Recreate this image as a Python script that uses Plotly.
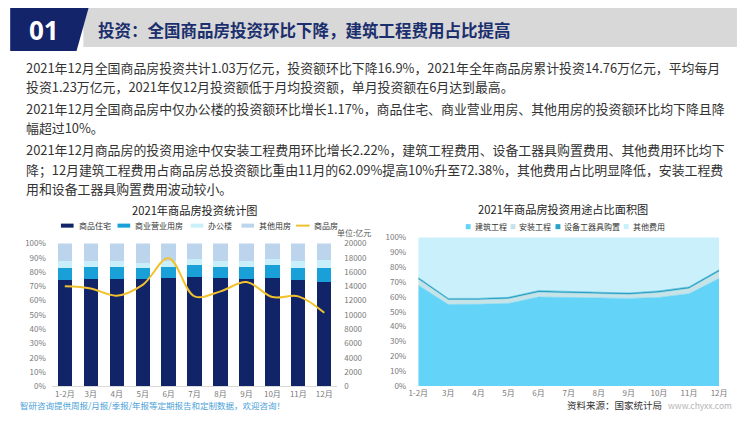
import plotly.graph_objects as go

# Figure size chosen so that the photographed page maps x 1:1 (offset 8px) and y ~0.964 (offset 15.3px)
W, H = 734, 406
X0, Y0, YSPAN = 8.0, 15.3, 391.4

# ---------------- data ----------------
months = ["1-2月", "3月", "4月", "5月", "6月", "7月", "8月", "9月", "10月", "11月", "12月"]

# bar chart: share of investment by building type (%)
residential_pct = [74.4, 75.3, 75.3, 75.3, 75.7, 76.6, 75.7, 75.3, 76.2, 74.8, 73.4]
commercial_pct = [8.6, 8.2, 8.2, 7.7, 7.8, 8.5, 8.0, 8.2, 8.7, 8.2, 9.2]
office_pct = [4.7, 4.2, 4.2, 3.5, 4.3, 3.9, 4.0, 4.2, 4.1, 4.7, 6.0]
other_pct = [12.3, 12.3, 12.3, 13.5, 12.2, 11.0, 12.3, 12.3, 11.0, 12.3, 11.4]
# line: commercial housing investment (亿元)
investment_total = [14000, 13700, 12700, 14200, 17950, 12600, 13300, 14600, 12500, 12600, 10300]

# area chart: share by usage (%)
construction_pct = [67.8, 54.9, 55.0, 55.6, 59.9, 59.6, 59.4, 59.0, 59.6, 62.1, 72.4]
installation_pct = [4.0, 3.0, 2.9, 3.0, 3.1, 2.9, 2.9, 2.5, 3.2, 3.4, 4.6]
equipment_pct = [1.2, 1.1, 1.1, 1.1, 1.2, 1.2, 1.2, 1.1, 1.2, 1.2, 1.2]
other_cost_pct = [27.0, 41.0, 41.0, 40.3, 35.8, 36.3, 36.5, 37.4, 36.0, 33.3, 21.8]

pct_ticks = [0, 10, 20, 30, 40, 50, 60, 70, 80, 90, 100]
pct_labels = ["0%", "10%", "20%", "30%", "40%", "50%", "60%", "70%", "80%", "90%", "100%"]
amount_ticks = [0, 2000, 4000, 6000, 8000, 10000, 12000, 14000, 16000, 18000, 20000]
amount_labels = ["0", "2000", "4000", "6000", "8000", "10000", "12000", "14000", "16000", "18000", "20000"]

bar_names = ["商品住宅", "商业营业用房", "办公楼", "其他用房", "商品房"]
area_names = ["建筑工程", "安装工程", "设备工器具购置", "其他费用"]

header_no = "01"
header_title = "投资：全国商品房投资环比下降，建筑工程费用占比提高"
paragraph_lines = [
    "2021年12月全国商品房投资共计1.03万亿元，投资额环比下降16.9%，2021年全年商品房累计投资14.76万亿元，平均每月",
    "投资1.23万亿元，2021年仅12月投资额低于月均投资额，单月投资额在6月达到最高。",
    "2021年12月全国商品房中仅办公楼的投资额环比增长1.17%，商品住宅、商业营业用房、其他用房的投资额环比均下降且降",
    "幅超过10%。",
    "2021年12月商品房的投资用途中仅安装工程费用环比增长2.22%，建筑工程费用、设备工器具购置费用、其他费用环比均下",
    "降；12月建筑工程费用占商品房总投资额比重由11月的62.09%提高10%升至72.38%，其他费用占比明显降低，安装工程费",
    "用和设备工器具购置费用波动较小。",
]
bar_title = "2021年商品房投资统计图"
area_title = "2021年商品房投资用途占比面积图"
unit_text = "单位:亿元"
footer_left = "智研咨询提供周报/月报/季报/年报等定期报告和定制数据，欢迎咨询！"
footer_src = "资料来源：国家统计局"
footer_url = "www.chyxx.com"

# ---------------- style ----------------
FONT = "Noto Sans CJK SC"
NAVY = "#13246a"
C_RES = "#112468"
C_COM = "#1aa0d8"
C_OFF = "#c9f0fa"
C_OTH = "#bcd4ec"
C_LINE = "#f2c12e"
C_CONS = "#63d3f8"
C_INST = "#c6e4e8"
C_EQUIP = "#2aa3c8"
C_OCOST = "#c9f0fb"
TICK = dict(family=FONT, size=8, color="#7a7a7a")


def px(x):
    return (x - X0) / W


def py(y):
    return 1 - (y - Y0) / YSPAN


fig = go.Figure()

# bars
for vals, name, col in zip([residential_pct, commercial_pct, office_pct, other_pct],
                           bar_names[:4], [C_RES, C_COM, C_OFF, C_OTH]):
    fig.add_trace(go.Bar(x=months, y=vals, name=name, marker=dict(color=col, line=dict(width=0)),
                         xaxis="x", yaxis="y", showlegend=False))

fig.add_trace(go.Scatter(x=months, y=investment_total, name=bar_names[4], mode="lines",
                         line=dict(color=C_LINE, width=2, shape="spline", smoothing=1.0),
                         xaxis="x", yaxis="y2", showlegend=False))

# areas
for vals, name, col in zip([construction_pct, installation_pct, equipment_pct, other_cost_pct],
                           area_names, [C_CONS, C_INST, C_EQUIP, C_OCOST]):
    fig.add_trace(go.Scatter(x=months, y=vals, name=name, mode="lines", stackgroup="usage",
                             line=dict(color=col, width=0.6), fillcolor=col,
                             xaxis="x2", yaxis="y3", showlegend=False))

shapes = []
annotations = []

# header
shapes.append(dict(type="rect", xref="paper", yref="paper", x0=px(75), x1=px(745), y0=py(48), y1=py(9),
                   fillcolor="#d8d8d8", line=dict(width=0), layer="below"))
shapes.append(dict(type="path", xref="paper", yref="paper",
                   path=f"M {px(0)} {py(0)} L {px(83)} {py(0)} L {px(68)} {py(52)} L {px(0)} {py(52)} Z",
                   fillcolor=NAVY, line=dict(width=0), layer="below"))
annotations.append(dict(text=f"<b>{header_no}</b>", x=px(35), y=py(31), xref="paper", yref="paper",
                        xanchor="center", yanchor="middle", showarrow=False,
                        font=dict(family="Noto Sans", size=26, color="white")))
annotations.append(dict(text=f"<b>{header_title}</b>", x=px(88), y=py(31), xref="paper", yref="paper",
                        xanchor="left", yanchor="middle", showarrow=False,
                        font=dict(family=FONT, size=16.5, color="#1b2f6e")))

# paragraphs
line_y = [68, 87, 109, 128, 150, 169, 188]
for txt, yy in zip(paragraph_lines, line_y):
    annotations.append(dict(text=txt, x=px(14), y=py(yy), xref="paper", yref="paper",
                            xanchor="left", yanchor="middle", showarrow=False,
                            font=dict(family=FONT, size=12.9, color="#333333")))

# chart titles
annotations.append(dict(text=bar_title, x=px(189), y=py(210), xref="paper", yref="paper",
                        xanchor="center", yanchor="middle", showarrow=False,
                        font=dict(family=FONT, size=11.2, color="#222222")))
annotations.append(dict(text=area_title, x=px(567), y=py(209), xref="paper", yref="paper",
                        xanchor="center", yanchor="middle", showarrow=False,
                        font=dict(family=FONT, size=11.2, color="#222222")))

# bar legend (custom)
LEG = dict(family=FONT, size=8, color="#333333")
bar_leg_x = [52, 110, 185, 237, 293]
bar_leg_cols = [C_RES, C_COM, C_OFF, C_OTH, C_LINE]
for i, (x0, col, name) in enumerate(zip(bar_leg_x, bar_leg_cols, bar_names)):
    if i < 4:
        shapes.append(dict(type="rect", xref="paper", yref="paper", x0=px(x0), x1=px(x0 + 13),
                           y0=py(227), y1=py(223), fillcolor=col, line=dict(width=0)))
    else:
        shapes.append(dict(type="line", xref="paper", yref="paper", x0=px(x0), x1=px(x0 + 14),
                           y0=py(225), y1=py(225), line=dict(color=col, width=2)))
    annotations.append(dict(text=name, x=px(x0 + 16), y=py(225), xref="paper", yref="paper",
                            xanchor="left", yanchor="middle", showarrow=False, font=LEG))

annotations.append(dict(text=unit_text, x=px(352), y=py(232), xref="paper", yref="paper",
                        xanchor="center", yanchor="middle", showarrow=False,
                        font=dict(family=FONT, size=8, color="#555555")))

# area legend (custom)
area_leg_x = [467, 513, 559, 629]
for x0, col, name in zip(area_leg_x, [C_CONS, C_INST, C_EQUIP, C_OCOST], area_names):
    shapes.append(dict(type="rect", xref="paper", yref="paper", x0=px(x0), x1=px(x0 + 5),
                       y0=py(228.5), y1=py(223.5), fillcolor=col, line=dict(width=0)))
    annotations.append(dict(text=name, x=px(x0 + 7), y=py(226), xref="paper", yref="paper",
                            xanchor="left", yanchor="middle", showarrow=False, font=LEG))

# footer
FOOT_Y = 402.5
annotations.append(dict(text=footer_left, x=px(8), y=py(FOOT_Y), xref="paper", yref="paper",
                        xanchor="left", yanchor="middle", showarrow=False,
                        font=dict(family=FONT, size=8.5, color="#4a9fd8")))
annotations.append(dict(text=footer_src, x=px(670), y=py(FOOT_Y), xref="paper", yref="paper",
                        xanchor="right", yanchor="middle", showarrow=False,
                        font=dict(family=FONT, size=9.5, color="#333333")))
annotations.append(dict(text=footer_url, x=px(742), y=py(FOOT_Y), xref="paper", yref="paper",
                        xanchor="right", yanchor="middle", showarrow=False,
                        font=dict(family=FONT, size=8.5, color="#b5b5b5")))

fig.update_layout(
    width=W, height=H, margin=dict(l=0, r=0, t=0, b=0),
    paper_bgcolor="white", plot_bgcolor="rgba(0,0,0,0)",
    barmode="stack", bargap=0.45,
    font=dict(family=FONT),
    showlegend=False,
    shapes=shapes, annotations=annotations,
    xaxis=dict(domain=[px(42.7), px(335.3)], anchor="y", type="category", range=[-0.5, 10.5],
               showgrid=False, zeroline=False, showline=True, linecolor="#d9d9d9", linewidth=1,
               ticks="", tickfont=TICK, ticklabelstandoff=0),
    yaxis=dict(domain=[py(384.3), py(242.7)], anchor="x", range=[0, 100], tickmode="array",
               tickvals=pct_ticks, ticktext=pct_labels, showgrid=False, zeroline=False,
               showline=False, ticks="", tickfont=TICK, ticklabelstandoff=5),
    yaxis2=dict(overlaying="y", side="right", anchor="x", range=[0, 20000], tickmode="array",
                tickvals=amount_ticks, ticktext=amount_labels, showgrid=False, zeroline=False,
                showline=False, ticks="", tickfont=TICK, ticklabelstandoff=6),
    xaxis2=dict(domain=[px(418.3), px(726.7)], anchor="y3", type="category", range=[0, 10],
                showgrid=False, zeroline=False, showline=False, ticks="", tickfont=TICK,
                ticklabelstandoff=1),
    yaxis3=dict(domain=[py(384), py(236.7)], anchor="x2", range=[0, 100], tickmode="array",
                tickvals=pct_ticks, ticktext=pct_labels, showgrid=False, zeroline=False,
                showline=False, ticks="", tickfont=TICK, ticklabelstandoff=11),
)

fig.write_html("out.html", config={"displayModeBar": False})
